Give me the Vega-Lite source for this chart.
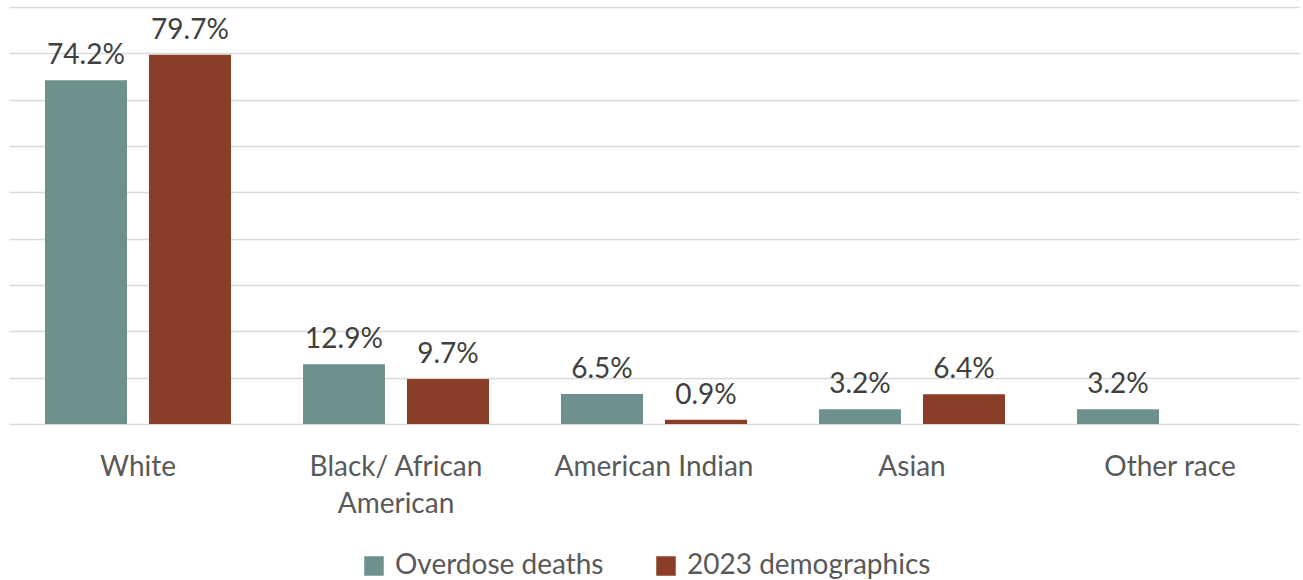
{
  "$schema": "https://vega.github.io/schema/vega-lite/v6.json",
  "autosize": "none",
  "width": 1290,
  "height": 417,
  "padding": {"left": 9, "top": 7, "right": 4, "bottom": 156},
  "background": "white",
  "config": {
    "font": "Lato",
    "view": {"stroke": null},
    "axis": {"labelFont": "Lato", "labelColor": "#595959"},
    "legend": {"labelFont": "Lato", "labelColor": "#595959"}
  },
  "data": {
    "values": [
      {"race": "White", "series": "Overdose deaths", "pct": 0.742},
      {"race": "White", "series": "2023 demographics", "pct": 0.797},
      {"race": "Black/ African American", "series": "Overdose deaths", "pct": 0.129},
      {"race": "Black/ African American", "series": "2023 demographics", "pct": 0.097},
      {"race": "American Indian", "series": "Overdose deaths", "pct": 0.065},
      {"race": "American Indian", "series": "2023 demographics", "pct": 0.009},
      {"race": "Asian", "series": "Overdose deaths", "pct": 0.032},
      {"race": "Asian", "series": "2023 demographics", "pct": 0.064},
      {"race": "Other race", "series": "Overdose deaths", "pct": 0.032}
    ]
  },
  "encoding": {
    "x": {
      "field": "race",
      "type": "nominal",
      "sort": ["White", "Black/ African American", "American Indian", "Asian", "Other race"],
      "scale": {"paddingInner": 0.279, "paddingOuter": 0.1395},
      "axis": {
        "title": null,
        "labelAngle": 0,
        "domain": false,
        "ticks": false,
        "labelFontSize": 28,
        "labelPadding": 29,
        "labelLineHeight": 37,
        "labelLimit": 0,
        "labelExpr": "datum.label == 'Black/ African American' ? ['Black/  African', 'American'] : datum.label"
      }
    },
    "xOffset": {
      "field": "series",
      "type": "nominal",
      "sort": ["Overdose deaths", "2023 demographics"],
      "scale": {"paddingInner": 0.2115, "paddingOuter": 0}
    },
    "y": {
      "field": "pct",
      "type": "quantitative",
      "scale": {"domain": [0, 0.9], "nice": false},
      "axis": {
        "title": null,
        "labels": false,
        "ticks": false,
        "domain": false,
        "grid": true,
        "gridColor": "#d9d9d9",
        "gridWidth": 1.3,
        "values": [0, 0.1, 0.2, 0.3, 0.4, 0.5, 0.6, 0.7, 0.8, 0.9]
      }
    }
  },
  "layer": [
    {
      "mark": {"type": "bar"},
      "encoding": {
        "color": {
          "field": "series",
          "type": "nominal",
          "sort": ["Overdose deaths", "2023 demographics"],
          "scale": {"domain": ["Overdose deaths", "2023 demographics"], "range": ["#6e9190", "#8b3e27"]},
          "legend": {
            "title": null,
            "orient": "none",
            "legendX": 351,
            "legendY": 545,
            "direction": "horizontal",
            "symbolType": "square",
            "symbolSize": 380,
            "symbolStrokeWidth": 0,
            "labelFontSize": 28,
            "labelOffset": 7,
            "labelLimit": 0,
            "columnPadding": 48
          }
        }
      }
    },
    {
      "mark": {"type": "text", "baseline": "bottom", "dy": -10, "fontSize": 28, "color": "#404040"},
      "encoding": {
        "text": {"field": "pct", "type": "quantitative", "format": ".1%"},
        "detail": {"field": "series"}
      }
    }
  ]
}
